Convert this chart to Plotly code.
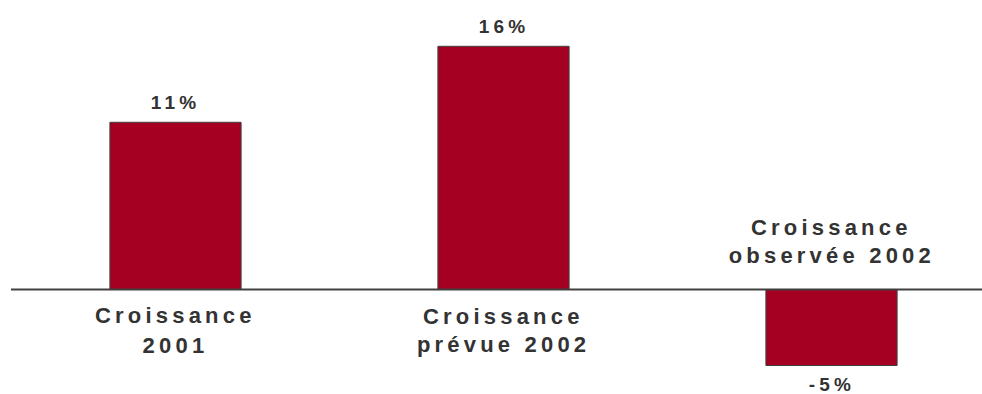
import plotly.graph_objects as go

categories = ["Croissance 2001", "Croissance prévue 2002", "Croissance observée 2002"]
label_line1 = ["Croissance", "Croissance", "Croissance"]
label_line2 = ["2001", "prévue 2002", "observée 2002"]
values = [11, 16, -5]
value_labels = ["11%", "16%", "-5%"]

BAR = "#A50021"
TXT = "#333333"
FONT = "Arial, Liberation Sans, sans-serif"

W, H = 982, 394
xs = list(range(len(categories)))

fig = go.Figure()
fig.add_trace(go.Bar(
    x=xs, y=values, width=0.4,
    marker=dict(color=BAR, line=dict(color="#404040", width=1)),
    hoverinfo="skip", showlegend=False,
))

annotations = []
for i, (v, lab) in enumerate(zip(values, value_labels)):
    annotations.append(dict(
        x=i, y=v, xref="x", yref="y", text="<b>%s</b>" % lab, showarrow=False,
        yanchor="middle", yshift=20 if v >= 0 else -19, borderpad=0,
        font=dict(family=FONT, size=19, color=TXT, weight=700),
    ))

# category label centres (pixels from top) for each line
line1_px = [315, 316, 227]
line2_px = [345, 344, 256]
for i in xs:
    for txt, px in ((label_line1[i], line1_px[i]), (label_line2[i], line2_px[i])):
        annotations.append(dict(
            x=i, y=1 - px / H, xref="x", yref="paper", text="<b>%s</b>" % txt,
            showarrow=False, yanchor="middle", borderpad=0,
            font=dict(family=FONT, size=22, color=TXT, weight=700),
        ))

fig.update_layout(
    width=W, height=H, margin=dict(l=0, r=0, t=0, b=0),
    paper_bgcolor="white", plot_bgcolor="white",
    xaxis=dict(range=[-175.5 / 328, (W - 175.5) / 328], visible=False, fixedrange=True),
    yaxis=dict(range=[-104.5 / 15.2, 289.5 / 15.2], visible=False, fixedrange=True),
    annotations=annotations,
    shapes=[dict(type="line", xref="paper", yref="y", x0=11 / W, x1=1, y0=0, y1=0,
                 line=dict(color="#404040", width=2))],
)

post = ("var gd = document.getElementById('{plot_id}');"
        "gd.querySelectorAll('.annotation-text').forEach("
        "function(t){t.style.letterSpacing='4.2px';});")
fig.write_html("out.html", config={"displayModeBar": False}, post_script=post)
